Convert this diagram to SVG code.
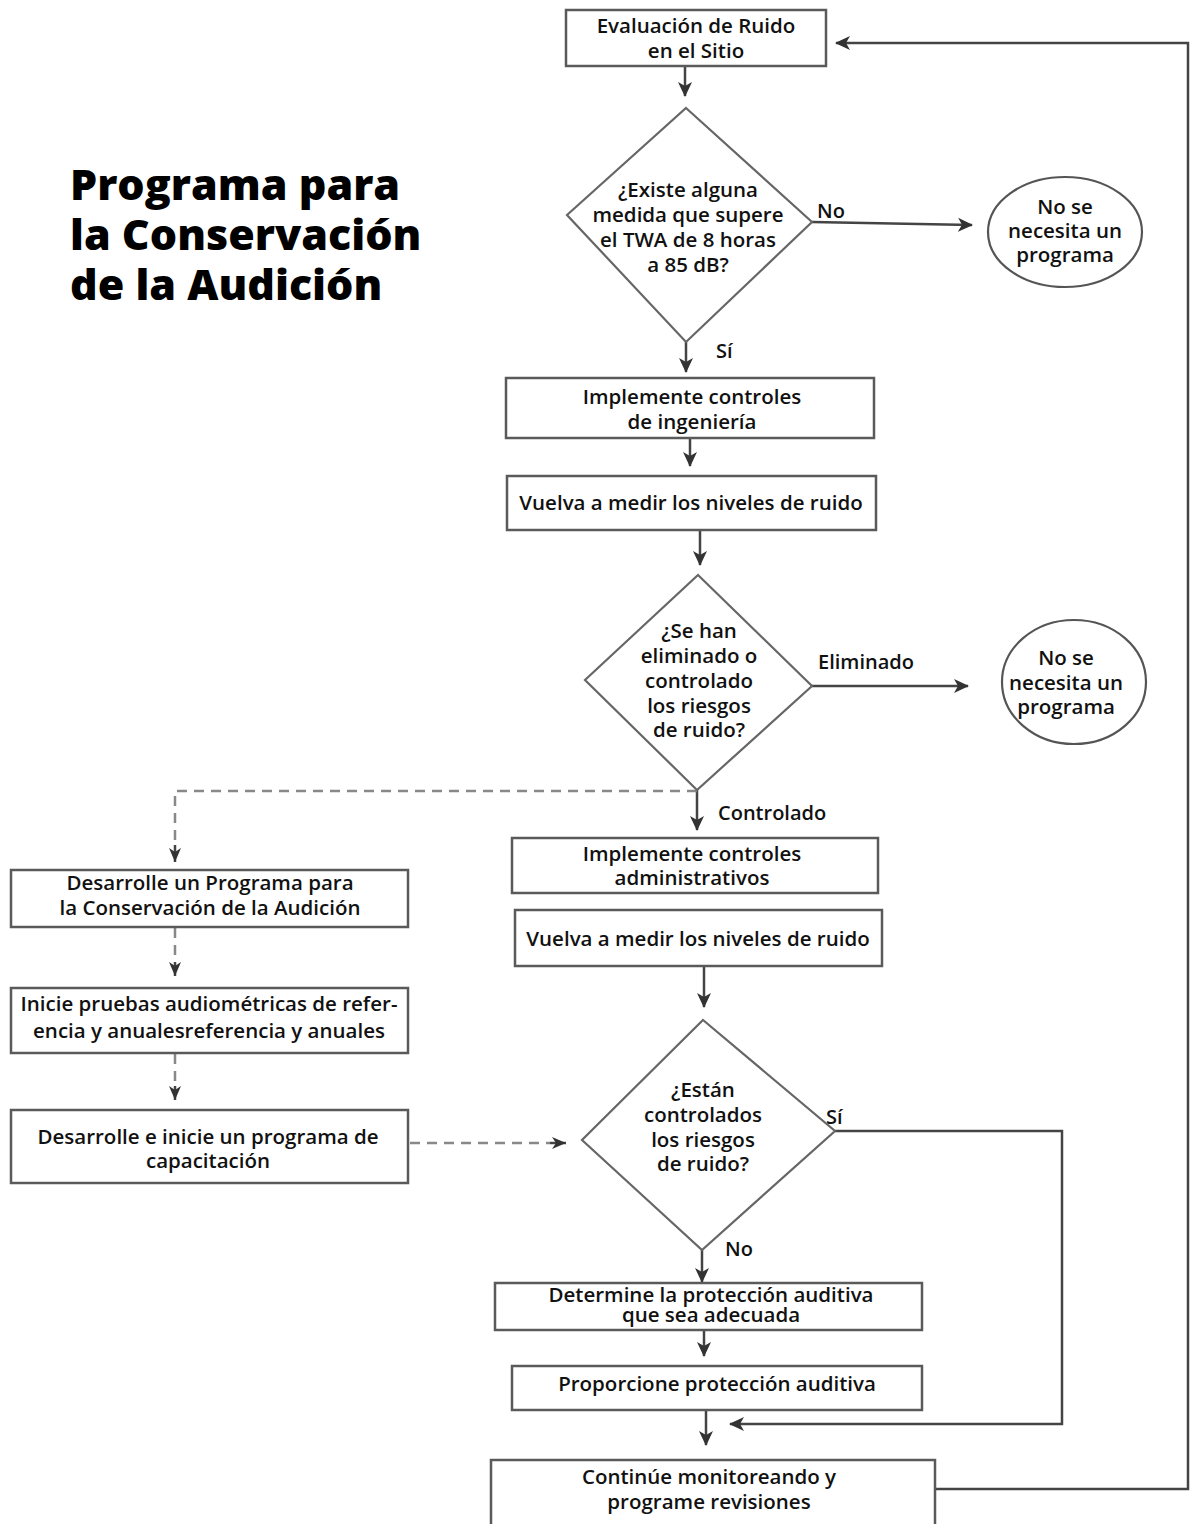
<svg xmlns="http://www.w3.org/2000/svg" width="1194" height="1524" viewBox="0 0 1194 1524">
<defs>
<marker id="ah" markerUnits="userSpaceOnUse" markerWidth="16" markerHeight="16" refX="14" refY="8" orient="auto"><path d="M0,1 L15,8 L0,15 L4,8 z" fill="#333"/></marker>
<marker id="ahd" markerUnits="userSpaceOnUse" markerWidth="16" markerHeight="16" refX="14" refY="8" orient="auto"><path d="M0,2 L14,8 L0,14 L4,8 z" fill="#333"/></marker>
<style>
.box{fill:#fff;stroke:#5a5a5a;stroke-width:2.5}
.dia{fill:#fff;stroke:#666;stroke-width:2.2}
.ell{fill:#fff;stroke:#555;stroke-width:2.2}
.t{font-family:"Open Sans","Noto Sans","DejaVu Sans",sans-serif;font-weight:600;font-size:20.5px;fill:#111;text-anchor:middle}
.lbl{font-family:"Open Sans","Noto Sans","DejaVu Sans",sans-serif;font-weight:600;font-size:20px;fill:#111}
.title{font-family:"Open Sans","Noto Sans","DejaVu Sans",sans-serif;font-weight:800;font-size:43px;fill:#000}
.c{fill:none;stroke:#444;stroke-width:2.5}
.d{fill:none;stroke:#888;stroke-width:2.5;stroke-dasharray:10 7}
</style>
</defs>
<rect width="1194" height="1524" fill="#fff"/>

<g id="title">
<text class="title" x="70" y="200">Programa para</text>
<text class="title" x="70" y="250">la Conservación</text>
<text class="title" x="70" y="300">de la Audición</text>
</g>

<g id="connectors">
<line class="c" x1="685" y1="66" x2="685" y2="96" marker-end="url(#ah)"/>
<polyline class="c" points="935,1489 1188,1489 1188,43 836,43" marker-end="url(#ah)"/>
<line class="c" x1="812" y1="222" x2="972" y2="225" marker-end="url(#ah)"/>
<line class="c" x1="686" y1="342" x2="686" y2="372" marker-end="url(#ah)"/>
<line class="c" x1="690" y1="438" x2="690" y2="466" marker-end="url(#ah)"/>
<line class="c" x1="700" y1="530" x2="700" y2="565" marker-end="url(#ah)"/>
<line class="c" x1="812" y1="686" x2="968" y2="686" marker-end="url(#ah)"/>
<line class="c" x1="697" y1="790" x2="697" y2="830" marker-end="url(#ah)"/>
<polyline class="d" points="697,791 175,791 175,845"/>
<line class="c" x1="175" y1="845" x2="175" y2="862" marker-end="url(#ahd)"/>
<line class="d" x1="175" y1="928" x2="175" y2="962"/>
<line class="c" x1="175" y1="962" x2="175" y2="976" marker-end="url(#ahd)"/>
<line class="d" x1="175" y1="1054" x2="175" y2="1086"/>
<line class="c" x1="175" y1="1086" x2="175" y2="1100" marker-end="url(#ahd)"/>
<line class="d" x1="410" y1="1143" x2="550" y2="1143"/>
<line class="c" x1="550" y1="1143" x2="566" y2="1143" marker-end="url(#ahd)"/>
<line class="c" x1="704" y1="966" x2="704" y2="1007" marker-end="url(#ah)"/>
<polyline class="c" points="835,1131 1062,1131 1062,1424 730,1424" marker-end="url(#ah)"/>
<line class="c" x1="702" y1="1250" x2="702" y2="1282" marker-end="url(#ah)"/>
<line class="c" x1="704" y1="1330" x2="704" y2="1356" marker-end="url(#ah)"/>
<line class="c" x1="706" y1="1410" x2="706" y2="1445" marker-end="url(#ah)"/>
<text class="lbl" x="817" y="218">No</text>
<text class="lbl" x="716" y="358">Sí</text>
<text class="lbl" x="818" y="669">Eliminado</text>
<text class="lbl" x="718" y="820">Controlado</text>
<text class="lbl" x="826" y="1124">Sí</text>
<text class="lbl" x="725" y="1256">No</text>
</g>

<g id="n1">
<rect class="box" x="566" y="10" width="260" height="56"/>
<text class="t" x="696" y="33">Evaluación de Ruido</text>
<text class="t" x="696" y="58">en el Sitio</text>
</g>

<g id="d1">
<polygon class="dia" points="686,108 812,222 686,342 567,215"/>
<text class="t" x="688" y="197">¿Existe alguna</text>
<text class="t" x="688" y="222">medida que supere</text>
<text class="t" x="688" y="247">el TWA de 8 horas</text>
<text class="t" x="688" y="272">a 85 dB?</text>
</g>

<g id="e1">
<ellipse class="ell" cx="1065" cy="232" rx="77" ry="55"/>
<text class="t" x="1065" y="214">No se</text>
<text class="t" x="1065" y="238">necesita un</text>
<text class="t" x="1065" y="262">programa</text>
</g>

<g id="n2">
<rect class="box" x="506" y="378" width="368" height="60"/>
<text class="t" x="692" y="404">Implemente controles</text>
<text class="t" x="692" y="429">de ingeniería</text>
</g>

<g id="n3">
<rect class="box" x="507" y="476" width="369" height="54"/>
<text class="t" x="691" y="510">Vuelva a medir los niveles de ruido</text>
</g>

<g id="d2">
<polygon class="dia" points="698,575 812,686 697,790 585,680"/>
<text class="t" x="699" y="638">¿Se han</text>
<text class="t" x="699" y="663">eliminado o</text>
<text class="t" x="699" y="688">controlado</text>
<text class="t" x="699" y="713">los riesgos</text>
<text class="t" x="699" y="737">de ruido?</text>
</g>

<g id="e2">
<ellipse class="ell" cx="1074" cy="682" rx="72" ry="62"/>
<text class="t" x="1066" y="665">No se</text>
<text class="t" x="1066" y="690">necesita un</text>
<text class="t" x="1066" y="714">programa</text>
</g>

<g id="n4">
<rect class="box" x="512" y="838" width="366" height="55"/>
<text class="t" x="692" y="861">Implemente controles</text>
<text class="t" x="692" y="885">administrativos</text>
</g>

<g id="n5">
<rect class="box" x="515" y="910" width="367" height="56"/>
<text class="t" x="698" y="946">Vuelva a medir los niveles de ruido</text>
</g>

<g id="d3">
<polygon class="dia" points="703,1020 835,1131 702,1250 582,1140"/>
<text class="t" x="703" y="1097">¿Están</text>
<text class="t" x="703" y="1122">controlados</text>
<text class="t" x="703" y="1147">los riesgos</text>
<text class="t" x="703" y="1171">de ruido?</text>
</g>

<g id="n6">
<rect class="box" x="495" y="1283" width="427" height="47"/>
<text class="t" x="711" y="1302">Determine la protección auditiva</text>
<text class="t" x="711" y="1322">que sea adecuada</text>
</g>

<g id="n7">
<rect class="box" x="512" y="1366" width="410" height="44"/>
<text class="t" x="717" y="1391">Proporcione protección auditiva</text>
</g>

<g id="n8">
<rect class="box" x="491" y="1460" width="444" height="70"/>
<text class="t" x="709" y="1484">Continúe monitoreando y</text>
<text class="t" x="709" y="1509">programe revisiones</text>
</g>

<g id="l1">
<rect class="box" x="11" y="870" width="397" height="57"/>
<text class="t" x="210" y="890">Desarrolle un Programa para</text>
<text class="t" x="210" y="915">la Conservación de la Audición</text>
</g>

<g id="l2">
<rect class="box" x="11" y="988" width="397" height="65"/>
<text class="t" x="209" y="1011">Inicie pruebas audiométricas de refer-</text>
<text class="t" x="209" y="1038">encia y anualesreferencia y anuales</text>
</g>

<g id="l3">
<rect class="box" x="11" y="1110" width="397" height="73"/>
<text class="t" x="208" y="1144">Desarrolle e inicie un programa de</text>
<text class="t" x="208" y="1168">capacitación</text>
</g>
</svg>
